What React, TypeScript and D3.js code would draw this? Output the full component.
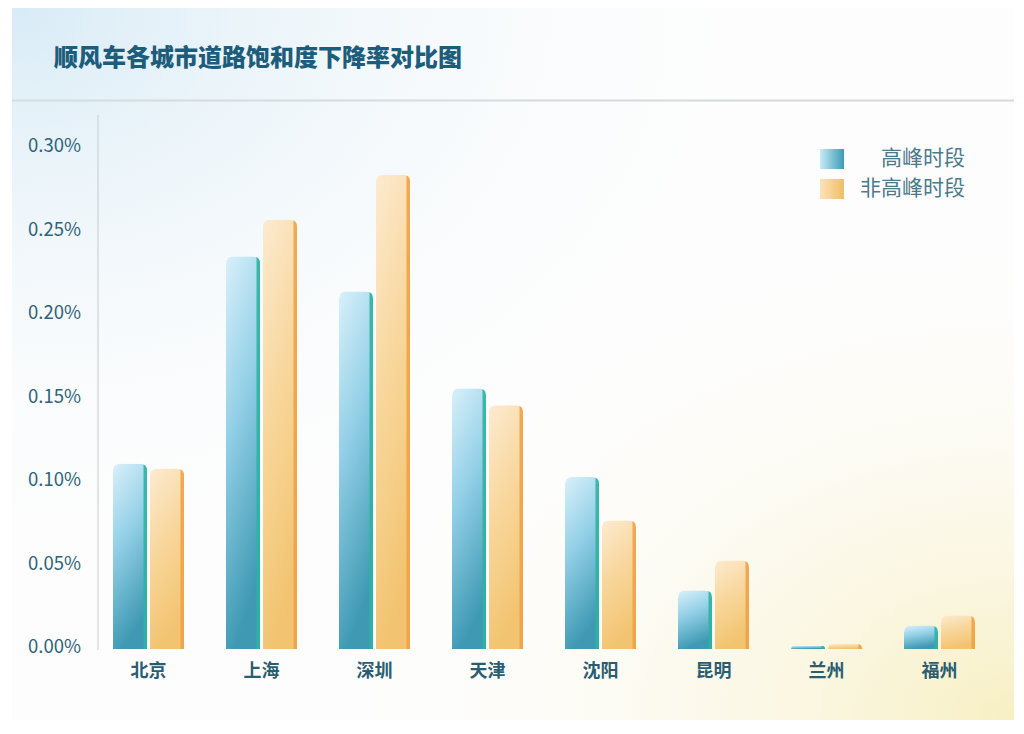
import React from "react";
import * as d3 from "d3";

const cities = ["北京", "上海", "深圳", "天津", "沈阳", "昆明", "兰州", "福州"];
const peakValues = [0.111, 0.235, 0.214, 0.156, 0.103, 0.035, 0.002, 0.014];
const offPeakValues = [0.108, 0.257, 0.284, 0.146, 0.077, 0.053, 0.003, 0.02];
const yTicks = [0, 0.05, 0.1, 0.15, 0.2, 0.25, 0.3];
const seriesNames = ["高峰时段", "非高峰时段"];

const W = 1024;
const H = 734;
const FONT = '"Noto Sans CJK SC", "Noto Sans", sans-serif';

const barPath = (x: number, y: number, w: number, y0: number) => {
  const h = y0 - y;
  const r = Math.max(0, Math.min(7, h, w / 2));
  return `M${x},${y0}L${x},${y + r}Q${x},${y} ${x + r},${y}L${x + w - r},${y}Q${x + w},${y} ${x + w},${y + r}L${x + w},${y0}Z`;
};

const App = () => {
  const x = d3.scaleBand<string>().domain(cities).range([92, 996]).padding(0);
  const y = d3.scaleLinear().domain([0, 0.3]).range([649, 148]);
  const fmt = d3.format(".2f");
  const barW = 34;
  const gap = 3;

  const series = [
    { name: seriesNames[0], values: peakValues, fill: "url(#gBlue)", strip: "#2db3a2", off: -barW - gap / 2 },
    { name: seriesNames[1], values: offPeakValues, fill: "url(#gYellow)", strip: "#efa244", off: gap / 2 },
  ];

  return (
    <svg width={W} height={H} style={{ position: "absolute", left: 0, top: 0, fontFamily: FONT }}>
      <defs>
        <radialGradient id="bgBlue" cx="0" cy="0" r="0.8">
          <stop offset="0" stopColor="#d8ebf6" />
          <stop offset="1" stopColor="#ffffff" stopOpacity="0" />
        </radialGradient>
        <radialGradient id="bgYellow" cx="1" cy="1" r="0.7">
          <stop offset="0" stopColor="#f7efc2" />
          <stop offset="1" stopColor="#ffffff" stopOpacity="0" />
        </radialGradient>
        <linearGradient id="gBlue" x1="0" y1="0" x2="0.25" y2="1">
          <stop offset="0" stopColor="#d9f0fa" />
          <stop offset="0.45" stopColor="#93d0e7" />
          <stop offset="1" stopColor="#3f99b3" />
        </linearGradient>
        <linearGradient id="gYellow" x1="0" y1="0" x2="0.25" y2="1">
          <stop offset="0" stopColor="#fcead0" />
          <stop offset="0.5" stopColor="#f8d69a" />
          <stop offset="1" stopColor="#f2c471" />
        </linearGradient>
        <linearGradient id="lgBlue" x1="0" y1="0" x2="1" y2="0">
          <stop offset="0" stopColor="#c8eaf8" />
          <stop offset="1" stopColor="#3a9cb4" />
        </linearGradient>
        <linearGradient id="lgYellow" x1="0" y1="0" x2="1" y2="0">
          <stop offset="0" stopColor="#fbe3b8" />
          <stop offset="1" stopColor="#f1bd66" />
        </linearGradient>
        {cities.map((c, i) =>
          series.map((s, k) => {
            const bx = (x(c) ?? 0) + x.bandwidth() / 2 + s.off;
            return (
              <clipPath key={`c${i}${k}`} id={`clip${i}${k}`}>
                <path d={barPath(bx, y(s.values[i]), barW, y(0))} />
              </clipPath>
            );
          })
        )}
      </defs>

      <rect x={0} y={0} width={W} height={H} fill="#ffffff" />
      <rect x={12} y={8} width={1002} height={712} fill="#fdfdfd" />
      <rect x={12} y={8} width={1002} height={712} fill="url(#bgBlue)" />
      <rect x={12} y={8} width={1002} height={712} fill="url(#bgYellow)" />

      <text x={54} y={66} fontSize={24} fontWeight={900} fill="#1d5d7c">
        顺风车各城市道路饱和度下降率对比图
      </text>
      <line x1={12} x2={1014} y1={100.5} y2={100.5} stroke="#d6dbde" strokeWidth={2} />

      <line x1={98} x2={98} y1={115} y2={650} stroke="#cfd3d6" strokeWidth={1.2} />

      {yTicks.map((t) => (
        <text key={t} x={81} y={y(t) - 2} dy="0.35em" textAnchor="end" fontSize={18.5} fill="#2e6479">
          {fmt(t)}%
        </text>
      ))}

      {cities.map((c, i) =>
        series.map((s, k) => {
          const bx = (x(c) ?? 0) + x.bandwidth() / 2 + s.off;
          const top = y(s.values[i]);
          return (
            <g key={`b${i}${k}`} clipPath={`url(#clip${i}${k})`}>
              <path d={barPath(bx, top, barW, y(0))} fill={s.fill} />
              <rect x={bx + barW - 3.5} y={top} width={3.5} height={y(0) - top} fill={s.strip} opacity={0.9} />
            </g>
          );
        })
      )}

      {cities.map((c) => (
        <text
          key={c}
          x={(x(c) ?? 0) + x.bandwidth() / 2}
          y={671}
          dy="0.35em"
          textAnchor="middle"
          fontSize={18}
          fontWeight={700}
          fill="#2b5d72"
        >
          {c}
        </text>
      ))}

      {series.map((s, k) => (
        <g key={s.name} transform={`translate(0, ${k * 30})`}>
          <rect x={820} y={149} width={24} height={20} fill={k === 0 ? "url(#lgBlue)" : "url(#lgYellow)"} />
          <text x={965} y={158} dy="0.35em" textAnchor="end" fontSize={21} fill="#4a7a8b">
            {s.name}
          </text>
        </g>
      ))}
    </svg>
  );
};

export default App;
